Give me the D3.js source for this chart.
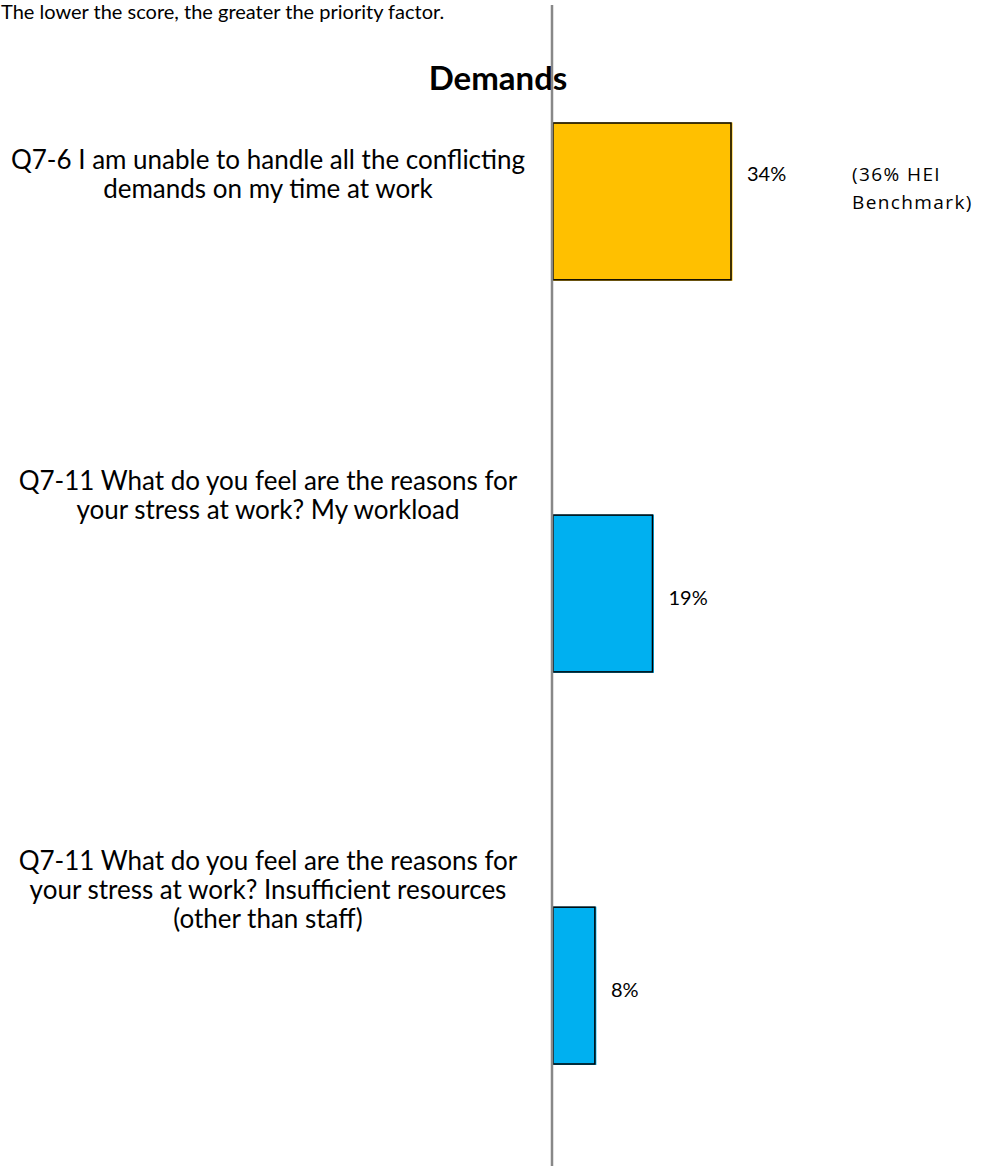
<!DOCTYPE html>
<html>
<head>
<meta charset="utf-8">
<script src="https://cdn.jsdelivr.net/npm/d3@7"></script>
<style>
  html, body { margin: 0; padding: 0; background: #fff; }
  svg { display: block; }
  text { font-family: Lato, "Open Sans", sans-serif; fill: #000; }
</style>
</head>
<body>
<svg id="chart" width="982" height="1166"></svg>
<script>
// Survey items (each entry is one wrapped label line list)
const categories = [
  ["Q7-6  I am unable to handle all the conflicting", "demands on my time at work"],
  ["Q7-11   What do you feel are the reasons for", "your stress at work? My workload"],
  ["Q7-11   What do you feel are the reasons for", "your stress at work? Insufficient resources", "(other than  staff)"]
];
const values = [34, 19, 8];           // percent
const barColors = ["#FFC000", "#00B0F0", "#00B0F0"];
const benchmarkLines = ["(36% HEI", "Benchmark)"];
const title = "Demands";
const note = "The lower the score, the greater the priority factor.";

// Layout
const W = 982, H = 1166;
const axisX = 552;
const labelShift = [-27, -98, -96];   // label block offset from band centre
const valueShift = [-27, 4, 4];       // value label offset from band centre

const svg = d3.select("#chart");

const x = d3.scaleLinear().domain([0, 34]).range([axisX + 1, 731]);
const y = d3.scaleBand()
  .domain(d3.range(values.length))
  .range([123, 1064])
  .paddingInner(0.6)
  .paddingOuter(0);

// Note and title
svg.append("text")
  .attr("x", 1).attr("y", 19)
  .style("font-size", "20px")
  .text(note);

svg.append("text")
  .attr("x", 498).attr("y", 90)
  .attr("text-anchor", "middle")
  .style("font-size", "33px")
  .style("font-weight", "bold")
  .text(title);

// Bars: fill with a thin same-colour rim, then black outline
const bars = svg.append("g");
values.forEach((v, i) => {
  const x0 = x(0), x1 = x(v), y0 = y(i), bh = y.bandwidth();
  bars.append("rect")
    .attr("x", x0).attr("y", y0 - 0.5)
    .attr("width", x1 - x0 + 1.5).attr("height", bh + 1.5)
    .attr("fill", barColors[i]);
  bars.append("rect")
    .attr("x", x0).attr("y", y0)
    .attr("width", x1 - x0).attr("height", bh)
    .attr("fill", barColors[i])
    .attr("stroke", "#000")
    .attr("stroke-width", 1.5);
});

// Value labels
svg.append("g").selectAll("text")
  .data(values)
  .join("text")
  .attr("x", d => x(d) + 16)
  .attr("y", (d, i) => y(i) + y.bandwidth() / 2 + valueShift[i])
  .attr("dy", "0.35em")
  .style("font-size", "20px")
  .text(d => d + "%");

// Benchmark note beside the first bar
svg.append("g").selectAll("text")
  .data(benchmarkLines)
  .join("text")
  .attr("x", 852)
  .attr("y", (d, i) => y(0) + y.bandwidth() / 2 - 27 + i * 28)
  .attr("dy", "0.35em")
  .style("font-family", "'Open Sans', sans-serif")
  .style("font-size", "19px")
  .style("letter-spacing", "1.4px")
  .text(d => d);

// Category labels, centred in the left column
const lineH = 29;
const labels = svg.append("g");
categories.forEach((lines, i) => {
  const cy = y(i) + y.bandwidth() / 2 + labelShift[i];
  const top = cy - (lines.length - 1) * lineH / 2;
  labels.selectAll(null)
    .data(lines)
    .join("text")
    .attr("x", 268)
    .attr("y", (d, j) => top + j * lineH)
    .attr("dy", "0.35em")
    .attr("text-anchor", "middle")
    .style("font-size", "26px")
    .text(d => d);
});

// Vertical axis line
svg.append("line")
  .attr("x1", axisX).attr("x2", axisX)
  .attr("y1", 5).attr("y2", H)
  .attr("stroke", "#888888")
  .attr("stroke-width", 2.5);
</script>
</body>
</html>
